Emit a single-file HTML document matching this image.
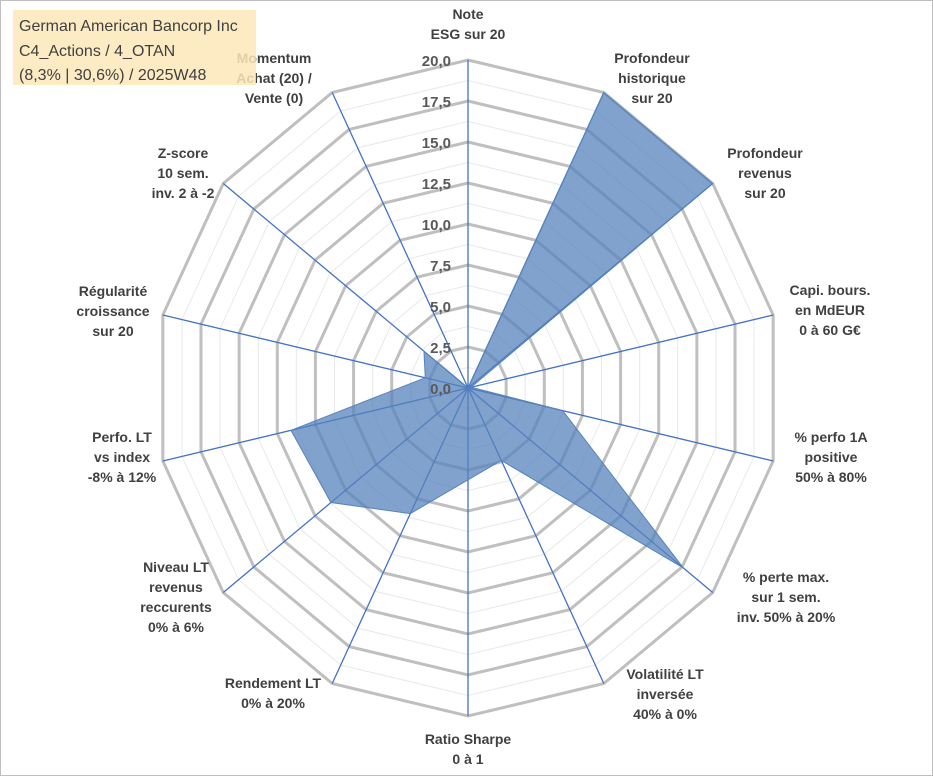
<!DOCTYPE html>
<html><head><meta charset="utf-8"><style>
body{margin:0;background:#fff;}
svg{display:block;font-family:"Liberation Sans",Arial,sans-serif;}
.lbl{font-size:14px;font-weight:bold;fill:#404040;text-anchor:middle;}
.tick{font-size:15px;font-weight:bold;fill:#595959;text-anchor:end;}
</style></head><body>
<svg id="chart" width="933" height="776">
<rect x="0.5" y="0.5" width="932" height="775" fill="#fff" stroke="#bfbfbf"/>
<g id="grid"></g>
<g id="spokes"></g>
<g id="series"></g>
<g id="ticks"></g>
<g id="labels"></g>
<g>
<rect x="13" y="10" width="243" height="75" fill="#fde9b8" opacity="0.85"/>
<text x="19" y="31" font-size="16" fill="#404040">German American Bancorp Inc</text>
<text x="19" y="56" font-size="16" fill="#404040">C4_Actions / 4_OTAN</text>
<text x="19" y="80" font-size="16" fill="#404040">(8,3% | 30,6%) / 2025W48</text>
</g>
</svg>
<script>
const categories=[["Note","ESG sur 20"],["Profondeur","historique","sur 20"],["Profondeur","revenus","sur 20"],["Capi. bours.","en MdEUR","0 à 60 G€"],["% perfo 1A","positive","50% à 80%"],["% perte max.","sur 1 sem.","inv. 50% à 20%"],["Volatilité LT","inversée","40% à 0%"],["Ratio Sharpe","0 à 1"],["Rendement LT","0% à 20%"],["Niveau LT","revenus","reccurents","0% à 6%"],["Perfo. LT","vs index","-8% à 12%"],["Régularité","croissance","sur 20"],["Z-score","10 sem.","inv. 2 à -2"],["Momentum","Achat (20) /","Vente (0)"]];
const values=[0,20,20,0.2,6.2,17.6,4.9,5.6,8.5,11.2,11.6,2.8,3.6,0];
const tickLabels=["0,0","2,5","5,0","7,5","10,0","12,5","15,0","17,5","20,0"];
const labelPos=[[468,19],[652,63],[765,158],[830,295],[831,442],[786,582],[665,679],[468,744],[273,688],[176,572],[122,442],[113,296],[183,158],[274,63]];
const NS="http://www.w3.org/2000/svg";
const cx=468,cy=388,Rx=313,Ry=328,maxV=20,N=categories.length;
function pt(i,v){const a=i*2*Math.PI/N;const f=v/maxV;return [cx+f*Rx*Math.sin(a),cy-f*Ry*Math.cos(a)];}
function mk(tag,attrs,parent){const e=document.createElementNS(NS,tag);for(const k in attrs)e.setAttribute(k,attrs[k]);parent.appendChild(e);return e;}
const grid=document.getElementById('grid');
for(let k=1;k<=16;k++){const v=k*1.25;const pts=[];for(let i=0;i<N;i++)pts.push(pt(i,v).join(','));
const major=k%2===0;
const p=mk('polygon',{points:pts.join(' '),fill:'none',stroke:major?'#bfbfbf':'#e8e8e8','stroke-width':major?3:1},grid);

}
const sp=document.getElementById('spokes');
for(let i=0;i<N;i++){const e=pt(i,maxV);const l=mk('line',{x1:cx,y1:cy,x2:e[0],y2:e[1],stroke:'#4472c4','stroke-width':1.3},sp);

}
const ser=document.getElementById('series');
const sp2=values.map((v,i)=>pt(i,v).join(',')).join(' ');
const poly=mk('polygon',{points:sp2,fill:'#5583bc','fill-opacity':0.75,stroke:'#5583bc','stroke-width':1},ser);


const tk=document.getElementById('ticks');
tickLabels.forEach((t,k)=>{const y=cy-k*2.5/maxV*Ry;const e=mk('text',{x:cx-17,y:y+6,class:'tick'},tk);e.textContent=t;

});
const lb=document.getElementById('labels');
categories.forEach((lines,i)=>{const g=mk('text',{class:'lbl'},lb);


lines.forEach((s,j)=>{const t=mk('tspan',{x:labelPos[i][0],y:labelPos[i][1]+j*20},g);t.textContent=s;});});
</script>
</body></html>
